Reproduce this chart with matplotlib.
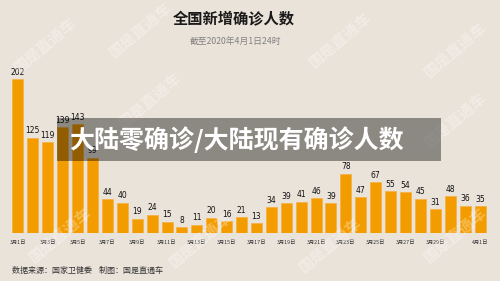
import matplotlib
matplotlib.use("Agg")
import matplotlib.pyplot as plt
from matplotlib.patches import Rectangle

plt.rcParams['font.family'] = ['Noto Sans CJK SC', 'DejaVu Sans']

dates = ["3月1日", "3月2日", "3月3日", "3月4日", "3月5日", "3月6日", "3月7日", "3月8日",
         "3月9日", "3月10日", "3月11日", "3月12日", "3月13日", "3月14日", "3月15日", "3月16日",
         "3月17日", "3月18日", "3月19日", "3月20日", "3月21日", "3月22日", "3月23日", "3月24日",
         "3月25日", "3月26日", "3月27日", "3月28日", "3月29日", "3月30日", "3月31日", "4月1日"]
new_cases = [202, 125, 119, 139, 143, 99, 44, 40, 19, 24, 15, 8, 11, 20, 16, 21,
             13, 34, 39, 41, 46, 39, 78, 47, 67, 55, 54, 45, 31, 48, 36, 35]
tick_labels = ["3月1日", "3月3日", "3月5日", "3月7日", "3月9日", "3月11日", "3月13日", "3月15日",
               "3月17日", "3月19日", "3月21日", "3月23日", "3月25日", "3月27日", "3月29日", "4月1日"]

title = "全国新增确诊人数"
subtitle = "截至2020年4月1日24时"
footer = "数据来源：国家卫健委    制图：国是直通车"
banner = "大陆零确诊/大陆现有确诊人数"
watermark = "国是直通车"

BG = "#EAE3DA"
BAR = "#F39C00"

W, H = 500, 281
fig = plt.figure(figsize=(5, 2.81), dpi=100, facecolor=BG)

# faint watermarks
for (x, y) in [(45, 45), (140, 30), (340, 40), (455, 50), (150, 100), (455, 120),
               (60, 235), (200, 240), (330, 245), (455, 235)]:
    fig.text(x / W, 1 - y / H, watermark, fontsize=11, rotation=40, color="white",
             alpha=0.3, ha="center", va="center", fontweight="bold")

ax = fig.add_axes([10.5 / W, 1 - 233 / H, 477 / W, 154 / H])
ax.set_facecolor("none")
x = list(range(len(dates)))
ax.bar(x, new_cases, width=0.74, color=BAR, edgecolor="#F6B040", linewidth=0.5)
ax.set_xlim(-0.5, len(dates) - 0.5)
ax.set_ylim(0, 202)
for xi, v in zip(x, new_cases):
    ax.text(xi, v + 3, str(v), ha="center", va="bottom", fontsize=5.5,
            family=["Liberation Sans Narrow", "DejaVu Sans"], color="#111", clip_on=False)

tick_pos = [dates.index(t) for t in tick_labels]
ax.set_xticks(tick_pos)
ax.set_xticklabels(tick_labels, fontsize=3.8, color="#333")
ax.tick_params(axis="x", length=0, pad=5)
ax.set_yticks([])
for s in ax.spines.values():
    s.set_visible(False)

fig.text(234 / W, 1 - 19 / H, title, ha="center", va="center", fontsize=11,
         color="#1a1a1a", fontweight="bold")
fig.text(235 / W, 1 - 42 / H, subtitle, ha="center", va="center", fontsize=6.3, color="#808080")
fig.text(12 / W, 1 - 270 / H, footer, ha="left", va="center", fontsize=5.8, color="#333")

# overlay banner
fig.patches.append(Rectangle((57 / W, 1 - 161 / H), 384 / W, 43 / H, transform=fig.transFigure,
                             facecolor="black", alpha=0.4, edgecolor="none", zorder=5))
fig.text(69 / W, 1 - 139.5 / H, banner, ha="left", va="center", fontsize=18,
         color="white", fontweight="heavy", zorder=6)

fig.savefig("out.png", dpi=100, facecolor=BG)
